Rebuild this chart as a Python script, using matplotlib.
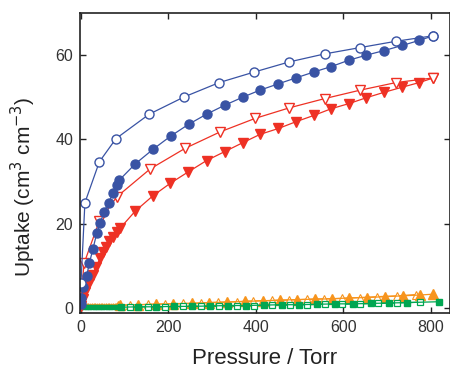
import matplotlib.pyplot as plt

plt.rcParams['font.family'] = ['Liberation Sans', 'DejaVu Sans']

# blue open circles
p_blue_open = [1, 10, 43, 81, 157, 237, 317, 397, 477, 558, 639, 721, 806]
u_blue_open = [6.0, 25.0, 34.7, 40.2, 46.0, 50.1, 53.5, 56.0, 58.4, 60.3, 61.8, 63.3, 64.6]

# blue filled circles
p_blue_fill = [0.5, 2, 6.5, 14, 20, 28, 37, 45, 54, 64, 74, 83, 89, 125, 166, 206, 247, 288, 329,
               370, 410, 452, 492, 533, 573, 613, 653, 694, 735, 774, 806]
u_blue_fill = [1.0, 2.5, 5.0, 7.6, 10.6, 13.9, 17.7, 20.2, 22.9, 25.0, 27.2, 29.1, 30.4, 34.2, 37.7,
               40.8, 43.6, 46.0, 48.1, 50.0, 51.7, 53.2, 54.6, 56.0, 57.3, 58.8, 60.0, 61.1, 62.3,
               63.5, 64.6]

# red open down-triangles
p_red_open = [0.5, 8, 43, 83, 159, 239, 319, 399, 477, 558, 639, 721, 806]
u_red_open = [1.5, 10.6, 20.7, 26.4, 33.0, 37.9, 41.8, 45.0, 47.5, 49.7, 51.7, 53.5, 54.6]

# red filled down-triangles
p_red_fill = [0.5, 2, 5, 10, 20, 28, 35, 45, 51, 58, 66, 74, 83, 90, 125, 165, 205, 246, 288, 329,
              370, 410, 452, 492, 533, 573, 613, 653, 694, 735, 774, 806]
u_red_fill = [0.5, 1.2, 2.2, 3.8, 5.9, 7.8, 9.8, 11.8, 13.4, 14.5, 16.0, 16.9, 18.1, 18.9, 23.0,
              26.6, 29.6, 32.3, 35.0, 37.1, 39.2, 41.2, 42.6, 44.2, 45.7, 47.3, 48.5, 49.9, 51.2,
              52.4, 53.5, 54.6]

# orange filled up-triangles
p_or_fill = [2, 10, 18, 26, 34, 42, 50, 58, 66, 74, 82, 90, 132, 173, 212, 254, 294, 334, 376, 416,
             455, 494, 535, 575, 614, 655, 695, 736, 776, 806]
u_or_fill = [0.5, 0.7, 0.7, 0.7, 0.7, 0.7, 0.7, 0.7, 0.7, 0.7, 0.7, 0.7, 0.8, 0.9, 1.0, 1.1, 1.3,
             1.4, 1.6, 1.7, 1.9, 2.0, 2.1, 2.2, 2.4, 2.5, 2.7, 2.9, 3.1, 3.3]

# orange open up-triangles
p_or_open = [6, 14, 22, 30, 38, 46, 54, 62, 70, 78, 86, 113, 154, 193, 235, 275, 315, 357, 395, 437,
             477, 517, 557, 598, 638, 678, 723, 766]
u_or_open = [0.7, 0.7, 0.7, 0.7, 0.7, 0.7, 0.7, 0.7, 0.7, 0.7, 0.7, 0.7, 0.9, 1.0, 1.1, 1.2, 1.4,
             1.5, 1.7, 1.8, 1.9, 2.1, 2.2, 2.3, 2.5, 2.7, 2.9, 3.2]

# green filled squares
p_gr_fill = [2, 8, 14, 20, 26, 32, 38, 44, 50, 56, 62, 68, 74, 80, 86, 92, 132, 173, 214, 255, 296,
             336, 377, 418, 460, 500, 541, 582, 622, 663, 704, 746, 818]
u_gr_fill = [0.2, 0.2, 0.2, 0.2, 0.2, 0.2, 0.2, 0.2, 0.2, 0.2, 0.2, 0.2, 0.2, 0.2, 0.2, 0.2, 0.3,
             0.3, 0.4, 0.4, 0.5, 0.6, 0.6, 0.7, 0.8, 0.8, 0.9, 1.0, 1.0, 1.1, 1.2, 1.3, 1.5]

# green open squares
p_gr_open = [113, 154, 194, 235, 275, 316, 357, 397, 437, 478, 518, 558, 598, 639, 680, 722, 776]
u_gr_open = [0.2, 0.3, 0.3, 0.4, 0.4, 0.5, 0.5, 0.6, 0.7, 0.7, 0.8, 0.9, 0.9, 1.0, 1.1, 1.2, 1.4]

blue = '#3953a4'
red = '#ee3124'
orange = '#f7941d'
green = '#00a651'

fig = plt.figure(figsize=(4.5, 3.71), dpi=100)
ax = fig.add_axes([0.178, 0.156, 0.821, 0.809])

lw = 0.9
n_or = 12  # dense low-pressure points drawn with small markers
n_oro = 11
n_gr = 16
ax.plot(p_or_open[n_oro - 1:], u_or_open[n_oro - 1:], '-^', color=orange, mfc='white', mec=orange,
        ms=6, lw=lw, mew=0.8)
ax.plot(p_or_open[:n_oro], u_or_open[:n_oro], '-^', color=orange, mfc='white', mec=orange,
        ms=2.5, lw=lw, mew=0.6)
ax.plot(p_or_fill[n_or - 1:], u_or_fill[n_or - 1:], '-^', color=orange, ms=6.5, lw=lw)
ax.plot(p_or_fill[:n_or], u_or_fill[:n_or], '-^', color=orange, ms=2.5, lw=lw)
ax.plot(p_gr_open, u_gr_open, '-s', color=green, mfc='white', mec=green, ms=4.5, lw=lw, mew=0.9)
ax.plot(p_gr_fill[n_gr - 1:], u_gr_fill[n_gr - 1:], '-s', color=green, ms=5, lw=lw)
ax.plot(p_gr_fill[:n_gr], u_gr_fill[:n_gr], '-s', color=green, ms=3, lw=2.5)
ax.plot(p_red_fill, u_red_fill, '-v', color=red, ms=7, lw=lw)
ax.plot(p_red_open, u_red_open, '-v', color=red, mfc='white', mec=red, ms=7, lw=lw, mew=1.0)
ax.plot(p_blue_fill, u_blue_fill, '-o', color=blue, ms=6.5, lw=lw)
ax.plot(p_blue_open, u_blue_open, '-o', color=blue, mfc='white', mec=blue, ms=6.5, lw=lw, mew=1.0)

ax.set_xlim(-1, 843)
ax.set_ylim(-1.2, 70)
ax.set_xticks([0, 200, 400, 600, 800])
ax.set_yticks([0, 20, 40, 60])
ax.tick_params(direction='in', top=True, right=True, length=4, width=1.0, pad=5,
               labelsize=11.5, colors='#222222', labelcolor='#333333')
for s in ax.spines.values():
    s.set_linewidth(1.2)
    s.set_color('#222222')

ax.set_xlabel('Pressure / Torr', fontsize=16, color='#222222', labelpad=9)
ax.set_ylabel('Uptake (cm$^3$ cm$^{-3}$)', fontsize=15, color='#222222')
ax.yaxis.set_label_coords(-0.115, 0.42)

fig.savefig('out.png', dpi=100)
